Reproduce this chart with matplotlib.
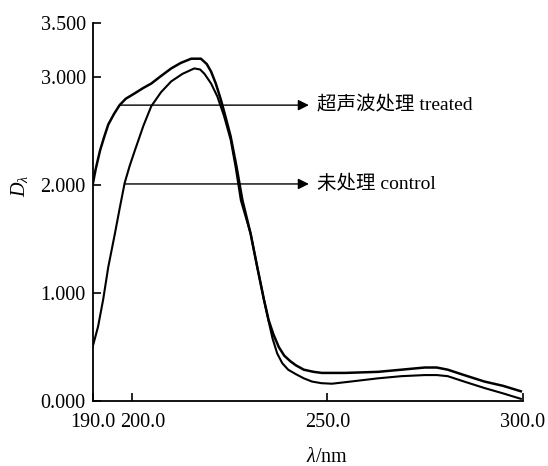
import matplotlib
matplotlib.use('Agg')
import matplotlib.pyplot as plt
import matplotlib.transforms as mtransforms
import numpy as np

plt.rcParams['font.family'] = ['Liberation Serif', 'Noto Sans CJK SC']
plt.rcParams['mathtext.fontset'] = 'custom'
plt.rcParams['mathtext.rm'] = 'Liberation Serif'
plt.rcParams['mathtext.it'] = 'Liberation Serif:italic'

# 超声波处理 treated
wl_treated = [190.0, 190.8, 191.9, 193.0, 194.0, 195.5, 196.9, 198.5, 200.8, 203.0,
              205.0, 207.5, 210.1, 212.5, 215.2, 217.7, 219.2, 220.3, 221.5, 222.8,
              224.0, 225.3, 226.8, 228.3, 230.4, 232.1, 233.8, 235.0, 236.2, 237.6,
              239.0, 240.5, 242.0, 244.0, 246.5, 248.6, 254.6, 263.0, 269.0, 274.9,
              278.0, 280.8, 285.0, 290.2, 295.0, 299.5]
d_treated = [2.00, 2.15, 2.32, 2.45, 2.56, 2.66, 2.74, 2.80, 2.85, 2.90,
             2.94, 3.01, 3.08, 3.13, 3.17, 3.17, 3.12, 3.05, 2.94, 2.79,
             2.63, 2.45, 2.17, 1.86, 1.55, 1.24, 0.94, 0.75, 0.62, 0.50,
             0.42, 0.37, 0.33, 0.29, 0.27, 0.26, 0.26, 0.27, 0.29, 0.31,
             0.31, 0.29, 0.24, 0.18, 0.14, 0.09]

# 未处理 control
wl_control = [190.0, 191.4, 192.7, 194.0, 195.7, 196.9, 198.2, 199.5, 200.8, 203.0,
              205.0, 207.5, 210.1, 213.0, 216.0, 217.5, 218.6, 220.3, 221.9, 223.6,
              225.3, 226.6, 227.9, 230.4, 232.1, 233.8, 235.0, 236.0, 237.2, 238.5,
              240.0, 241.9, 244.0, 246.1, 248.5, 251.2, 256.0, 263.0, 269.0, 274.9,
              278.0, 280.8, 285.0, 290.2, 295.0, 299.5]
d_control = [0.50, 0.69, 0.94, 1.24, 1.55, 1.78, 2.02, 2.18, 2.32, 2.55,
             2.73, 2.86, 2.96, 3.03, 3.08, 3.07, 3.03, 2.94, 2.82, 2.64,
             2.42, 2.16, 1.86, 1.55, 1.24, 0.94, 0.74, 0.58, 0.44, 0.35,
             0.29, 0.25, 0.21, 0.18, 0.165, 0.16, 0.18, 0.21, 0.23, 0.24,
             0.24, 0.23, 0.18, 0.12, 0.07, 0.02]

x_ticks = [190, 200, 250, 300]
x_labels = ['190.0', '200.0', '250.0', '300.0']
y_ticks = [0, 1, 2, 3, 3.5]
y_labels = ['0.000', '1.000', '2.000', '3.000', '3.500']

labels = ['超声波处理 treated', '未处理 control']
arrow_y = [2.74, 2.01]
arrow_x0 = [196.9, 198.2]

fig = plt.figure(figsize=(5.48, 4.66), dpi=100)
ax = fig.add_axes([0.169, 0.1395, 0.785, 0.811])

ax.plot(wl_treated, d_treated, color='black', lw=1.8)
ax.plot(wl_control, d_control, color='black', lw=1.5)

for lab, yy, x0 in zip(labels, arrow_y, arrow_x0):
    ax.annotate('', xy=(245.3, yy), xytext=(x0, yy),
                arrowprops=dict(arrowstyle='-|>', color='black', lw=1.0,
                                mutation_scale=16, shrinkA=0, shrinkB=0))
    ax.text(247.3, yy, lab, fontsize=14, va='center', ha='left')

ax.set_xlim(190, 300)
ax.set_ylim(0, 3.5)
ax.spines['top'].set_visible(False)
ax.spines['right'].set_visible(False)
ax.spines['left'].set_linewidth(1.3)
ax.spines['bottom'].set_linewidth(1.3)

ax.set_xticks(x_ticks)
ax.set_xticklabels(x_labels)
ax.set_yticks(y_ticks)
ax.set_yticklabels(y_labels)
ax.tick_params(direction='in', length=6, width=1.2, labelsize=14.5)
ax.tick_params(axis='x', pad=9)
ax.tick_params(axis='y', pad=5)

# 200.0 label sits a bit to the right so it clears 190.0
shift = mtransforms.ScaledTranslation(11 / 100, 0, fig.dpi_scale_trans)
lbl = ax.get_xticklabels()[1]
lbl.set_transform(lbl.get_transform() + shift)

fig.text(327 / 548, 1 - 457 / 466, r'$\lambda$/nm', fontsize=14.5, ha='center', va='center')
fig.text(20 / 548, 1 - 186 / 466, r'$D_\lambda$', fontsize=14.5, ha='center', va='center', rotation=90)

fig.savefig('out.png', dpi=100)
